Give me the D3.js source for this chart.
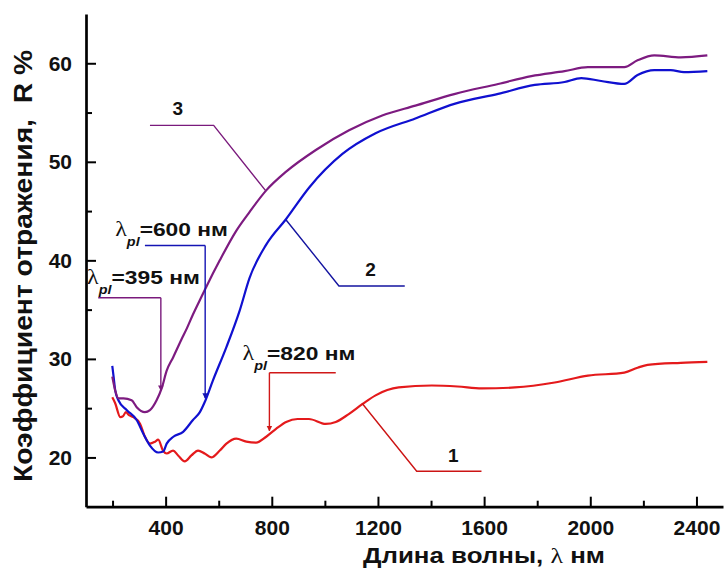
<!DOCTYPE html>
<html>
<head>
<meta charset="utf-8">
<script src="https://cdn.jsdelivr.net/npm/d3@7"></script>
<style>
  body { margin: 0; background: #fff; }
  text { font-family: "Liberation Sans", Arial, sans-serif; font-weight: bold; fill: #111; }
</style>
</head>
<body>
<div id="chart"></div>
<script>
// ---- data ----
var xMajorTicks = [400, 800, 1200, 1600, 2000, 2400];
var xMinorTicks = [200, 600, 1000, 1400, 1800, 2200];
var yMajorTicks = [20, 30, 40, 50, 60];
var yMinorTicks = [25, 35, 45, 55];

// curve 1 (red)
var curve1 = [[199,26.1],[210,25.5],[229,24.1],[240,24.2],[250,24.6],[262,24.3],[278,24.1],[304,23.4],[322,22.1],
  [341,21.4],[360,21.6],[372,21.8],[390,20.7],[404,20.4],[428,20.7],[447,20.2],[472,19.6],[497,20.2],[522,20.7],
  [547,20.4],[572,20.0],[604,20.7],[629,21.4],[666,21.9],[704,21.6],[741,21.5],[779,22.1],[816,22.9],[854,23.6],
  [897,23.9],[940,23.9],[1003,23.4],[1041,23.6],[1090,24.4],[1141,25.4],[1191,26.3],[1278,27.1],[1403,27.3],
  [1500,27.2],[1591,27.0],[1716,27.1],[1866,27.6],[1991,28.3],[2128,28.6],[2178,29.1],[2216,29.4],[2341,29.6],[2441,29.7]];

// curve 2 (blue)
var curve2 = [[199,29.3],[204,28.2],[210,26.8],[222,25.8],[254,24.8],[291,23.8],[316,22.4],[341,21.2],[372,20.5],
  [391,20.6],[404,21.4],[429,22.1],[466,22.6],[503,23.8],[529,24.6],[547,25.6],[578,27.8],[629,31.2],[679,34.9],
  [716,38.2],[779,41.6],[854,44.2],[941,47.4],[1066,50.8],[1191,52.9],[1341,54.4],[1491,55.9],[1653,56.9],
  [1791,57.8],[1903,58.1],[1966,58.5],[2041,58.2],[2128,57.9],[2178,58.8],[2241,59.3],[2303,59.3],[2353,59.1],[2441,59.2]];

// curve 3 (purple)
var curve3 = [[199,28.2],[210,26.8],[222,26.0],[241,26.0],[272,25.8],[291,25.1],[322,24.6],[341,24.8],[366,25.8],
  [385,27.0],[404,28.8],[429,30.2],[460,32.0],[480,33.1],[503,34.5],[535,36.3],[553,37.3],[604,40.0],[666,43.0],
  [716,44.9],[779,47.1],[854,49.0],[966,51.2],[1091,53.2],[1216,54.7],[1341,55.7],[1491,56.9],[1653,57.9],
  [1778,58.7],[1903,59.2],[1991,59.6],[2128,59.6],[2178,60.3],[2241,60.8],[2341,60.6],[2441,60.8]];

// plasma wavelength arrows: label, line start, arrow x, line level, arrow tip, text anchor (data units)
var plasmaNotes = [
  {label: "=395 нм", x0: 146, x1: 382, r0: 36.2, tip: 26.8, tx: 104, ty: 37.6, color: "#7a1a7c"},
  {label: "=600 нм", x0: 322, x1: 549, r0: 41.5, tip: 26.0, tx: 210, ty: 42.5, color: "#1414b4"},
  {label: "=820 нм", x0: 1041, x1: 791, r0: 28.6, tip: 22.7, tx: 690, ty: 29.9, color: "#d01818"}
];

// curve number leaders
var curveNotes = [
  {label: "3", pts: [[341,53.7],[581,53.7],[776,47.1]], tx: 446, ty: 54.8, color: "#7a1a7c"},
  {label: "2", pts: [[854,44.1],[1053,37.4],[1301,37.4]], tx: 1172, ty: 38.4, color: "#1414a0"},
  {label: "1", pts: [[1140,25.5],[1346,18.6],[1590,18.6]], tx: 1484, ty: 19.5, color: "#cc1414"}
];

var series = [
  {data: curve1, color: "#e41a1c"},
  {data: curve2, color: "#1010d0"},
  {data: curve3, color: "#7d1b80"}
];

// ---- drawing ----
var W = 726, H = 568;
var svg = d3.select("#chart").append("svg")
    .attr("width", W)
    .attr("height", H);

var xScale = d3.scaleLinear().domain([100, 2500]).range([86, 723]);
var yScale = d3.scaleLinear().domain([15, 65]).range([506.7, 14]);

var defs = svg.append("defs");
plasmaNotes.forEach(function(n, i) {
    defs.append("marker")
        .attr("id", "arr" + i)
        .attr("viewBox", "0 0 10 10")
        .attr("refX", 9).attr("refY", 5)
        .attr("markerWidth", 4).attr("markerHeight", 5)
        .attr("markerUnits", "strokeWidth")
        .attr("orient", "auto")
        .append("path")
        .attr("d", "M0,0 L10,5 L0,10 z")
        .attr("fill", n.color);
});

// x axis, ticks pointing inside
var xAxis = svg.append("g")
    .attr("transform", "translate(0," + yScale(15) + ")")
    .call(d3.axisBottom(xScale).tickValues(xMajorTicks).tickSize(-10).tickSizeOuter(0)
        .tickPadding(13).tickFormat(d3.format("d")));
svg.append("g")
    .attr("transform", "translate(0," + yScale(15) + ")")
    .call(d3.axisBottom(xScale).tickValues(xMinorTicks).tickSize(-6).tickSizeOuter(0).tickFormat(""))
    .select(".domain").remove();

var yAxis = svg.append("g")
    .attr("transform", "translate(" + xScale(100) + ",0)")
    .call(d3.axisLeft(yScale).tickValues(yMajorTicks).tickSize(-10).tickSizeOuter(0)
        .tickPadding(14).tickFormat(d3.format("d")));
svg.append("g")
    .attr("transform", "translate(" + xScale(100) + ",0)")
    .call(d3.axisLeft(yScale).tickValues(yMinorTicks).tickSize(-6).tickSizeOuter(0).tickFormat(""))
    .select(".domain").remove();

svg.selectAll(".domain").attr("stroke", "#000").attr("stroke-width", 2.7);
svg.selectAll(".tick line").attr("stroke", "#000").attr("stroke-width", 2);
svg.selectAll(".tick text")
    .attr("font-family", "'Liberation Sans', Arial, sans-serif")
    .attr("font-weight", "bold")
    .attr("font-size", 21)
    .attr("fill", "#111");

// axis titles
var xt = svg.append("text")
    .attr("text-anchor", "middle")
    .attr("x", 484).attr("y", 563)
    .attr("font-size", 22)
    .attr("textLength", 242)
    .attr("lengthAdjust", "spacingAndGlyphs");
xt.append("tspan").text("Длина волны, ");
xt.append("tspan").attr("font-family", "'Liberation Serif', serif").attr("font-weight", "normal").text("λ");
xt.append("tspan").text(" нм");

svg.append("text")
    .attr("text-anchor", "middle")
    .attr("transform", "translate(32,266) rotate(-90)")
    .attr("font-size", 26)
    .attr("textLength", 432)
    .attr("lengthAdjust", "spacingAndGlyphs")
    .attr("xml:space", "preserve")
    .text("Коэффициент отражения,  R %");

// curves
var valueLine = d3.line()
    .x(function(d) { return xScale(d[0]); })
    .y(function(d) { return yScale(d[1]); })
    .curve(d3.curveMonotoneX);

series.forEach(function(s) {
    svg.append("path")
        .datum(s.data)
        .attr("d", valueLine)
        .attr("fill", "none")
        .attr("stroke", s.color)
        .attr("stroke-width", 2.2);
});

// curve number leaders
var plainLine = d3.line()
    .x(function(d) { return xScale(d[0]); })
    .y(function(d) { return yScale(d[1]); });

curveNotes.forEach(function(n) {
    svg.append("path")
        .attr("d", plainLine(n.pts))
        .attr("fill", "none")
        .attr("stroke", n.color)
        .attr("stroke-width", 1.4);
    svg.append("text")
        .attr("x", xScale(n.tx)).attr("y", yScale(n.ty))
        .attr("text-anchor", "middle")
        .attr("font-size", 19)
        .text(n.label);
});

// plasma wavelength arrows
plasmaNotes.forEach(function(n, i) {
    svg.append("path")
        .attr("d", plainLine([[n.x0, n.r0], [n.x1, n.r0]]))
        .attr("fill", "none")
        .attr("stroke", n.color)
        .attr("stroke-width", 1.4);
    svg.append("line")
        .attr("x1", xScale(n.x1)).attr("y1", yScale(n.r0))
        .attr("x2", xScale(n.x1)).attr("y2", yScale(n.tip))
        .attr("stroke", n.color)
        .attr("stroke-width", 1.4)
        .attr("marker-end", "url(#arr" + i + ")");

    // the labels in the picture are a bit wider than the font, so stretch them
    var g = svg.append("g")
        .attr("transform", "translate(" + xScale(n.tx) + "," + yScale(n.ty) + ") scale(1.2,1)");
    var t = g.append("text").attr("font-size", 19);
    t.append("tspan").attr("font-family", "'Liberation Serif', serif").attr("font-weight", "normal")
        .attr("font-size", 20).text("λ");
    t.append("tspan").attr("font-style", "italic").attr("font-size", 12)
        .attr("dy", 10).text("pl");
    t.append("tspan").attr("dy", -10).text(n.label);
});
</script>
</body>
</html>
